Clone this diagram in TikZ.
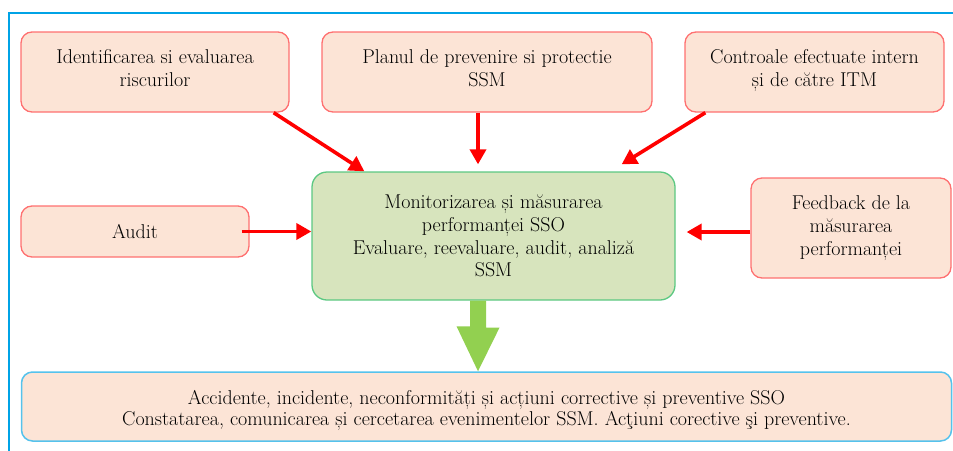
\documentclass[tikz,border=0pt]{standalone}
\usepackage{fontspec}
\usetikzlibrary{arrows.meta}
\definecolor{peach}{HTML}{FCE4D6}
\definecolor{redline}{HTML}{FF7070}
\definecolor{greenfill}{HTML}{D7E4BD}
\definecolor{greenline}{HTML}{5CC882}
\definecolor{blueline}{HTML}{55C2EC}
\definecolor{frameblue}{HTML}{00A3E6}
\definecolor{arrowred}{HTML}{FF0000}
\definecolor{blockgreen}{HTML}{92D050}
\tikzset{
  txt/.style={font=\rmfamily\fontsize{20}{22.7}\selectfont, align=center, inner sep=0pt},
  redbox/.style={txt, draw=redline, line width=1.3pt, fill=peach, rounded corners=11pt},
  greenbox/.style={txt, draw=greenline, line width=1.3pt, fill=greenfill, rounded corners=15pt},
  bluebox/.style={txt, draw=blueline, line width=1.5pt, fill=peach, rounded corners=11pt},
  redarrow/.style={draw=arrowred, line width=3.6pt, -{Triangle[length=15pt,width=16pt]}},
}
\begin{document}
\begin{tikzpicture}[x=1pt,y=1pt]
\useasboundingbox (0,0) rectangle (953,-450);
\draw[frameblue, line width=1.6pt] (9,-452) -- (9,-13) -- (955,-13);

\node[redbox, minimum width=268pt, minimum height=80pt] (b1) at (155,-72) {Identificarea si evaluarea\\riscurilor\\[-15pt]};
\node[redbox, minimum width=330pt, minimum height=80pt] (b2) at (487,-72) {Planul de prevenire si protectie\\SSM\\[-15pt]};
\node[redbox, minimum width=259pt, minimum height=80pt] (b3) at (814.5,-72) {Controale efectuate intern\\și de către ITM\\[-15pt]};
\node[redbox, minimum width=228pt, minimum height=51pt] (au) at (135,-231.5) {Audit};
\node[greenbox, minimum width=363pt, minimum height=128pt] (c) at (493.5,-236) {Monitorizarea și măsurarea\\performanței SSO\\Evaluare, reevaluare, audit, analiză\\SSM};
\node[redbox, minimum width=200pt, minimum height=100pt] (fb) at (851,-228) {Feedback de la\\măsurarea\\performanței};
\node[bluebox, minimum width=930pt, minimum height=69pt, font=\rmfamily\fontsize{20}{21}\selectfont] (bot) at (486.5,-406.5) {\rule{0pt}{22pt}Accidente, incidente, neconformități și acțiuni corrective și preventive SSO\\Constatarea, comunicarea și cercetarea evenimentelor SSM. Acţiuni corective şi preventive.};

% arrow end points
\coordinate (a1s) at ([xshift=-16pt]b1.south east);
\coordinate (a1e) at ([xshift=53pt]c.north west);
\coordinate (a2s) at ([xshift=-9pt]b2.south);
\coordinate (a2e) at ([xshift=-15.5pt,yshift=7pt]c.north);
\coordinate (a3s) at ([xshift=21pt]b3.south west);
\coordinate (a3e) at ([shift={(-54pt,7pt)}]c.north east);
\coordinate (a4s) at ([xshift=-8pt]au.east);
\coordinate (a5s) at ([yshift=-4pt]fb.west);
\coordinate (a5e) at ([xshift=11pt]c.east |- a5s);

\draw[redarrow] (a1s) -- (a1e);
\draw[redarrow] (a2s) -- (a2e);
\draw[redarrow] (a3s) -- (a3e);
\draw[redarrow] (a4s) -- (a4s -| c.west);
\draw[redarrow] (a5s) -- (a5e);

% block arrow
\coordinate (ba) at ([xshift=-15.5pt]c.south);
\fill[blockgreen] ([xshift=-8pt]ba) -- ([xshift=8pt]ba) -- ++(0,-27) -- ++(13.5,0)
  -- (ba |- bot.north) -- ++(-21.5,45) -- ++(13.5,0) -- cycle;
\end{tikzpicture}
\end{document}
